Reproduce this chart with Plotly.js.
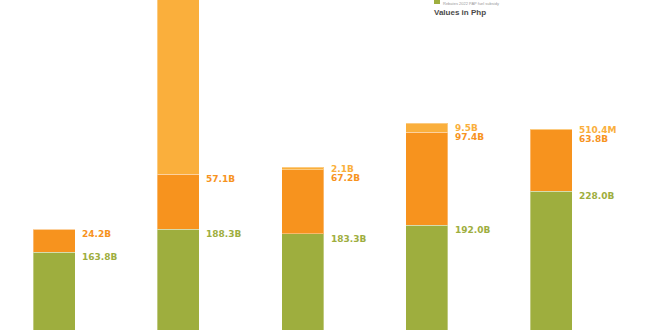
<!DOCTYPE html>
<html>
<head>
<meta charset="utf-8">
<script src="https://cdn.plot.ly/plotly-3.0.1.min.js"></script>
<style>html,body{margin:0;padding:0;background:#fff;}#chart{width:660px;height:330px;}</style>
</head>
<body>
<div id="chart"></div>
<script>
// Data (values in billions of Php)
const categories = ['2019', '2020', '2021', '2022', '2023'];
const baseValues = [163.8, 188.3, 183.3, 192.0, 228.0];
const addValues = [24.2, 57.1, 67.2, 97.4, 63.8];
const extraValues = [null, 200.0, 2.1, 9.5, 0.5104];
const seriesNames = ['Base', 'Additional', 'Supplemental'];

const colGreen = '#9EAE3E';
const colOrange = '#F7931E';
const colLight = '#FAAF3C';
const barWidth = 0.338;

function fmt(v) {
  return v >= 1 ? v.toFixed(1) + 'B' : (v * 1000).toFixed(1) + 'M';
}

const lineStyle = {width: 1, color: 'rgba(255,255,255,0.35)'};
const traces = [
  {type: 'bar', name: seriesNames[0], x: categories, y: baseValues, width: barWidth,
   marker: {color: colGreen, line: lineStyle}, hoverinfo: 'skip'},
  {type: 'bar', name: seriesNames[1], x: categories, y: addValues, width: barWidth,
   marker: {color: colOrange, line: lineStyle}, hoverinfo: 'skip'},
  {type: 'bar', name: seriesNames[2], x: categories, y: extraValues.map(v => v === null ? 0 : v), width: barWidth,
   marker: {color: colLight, line: lineStyle}, hoverinfo: 'skip'}
];

// Labels at the top of each segment, spread apart when they collide
const gap = 9.4; // minimum label spacing in value units
const annotations = [];
categories.forEach((c, i) => {
  const labels = [];
  let cum = baseValues[i];
  labels.push({pos: cum, text: fmt(baseValues[i]), color: colGreen});
  cum += addValues[i];
  labels.push({pos: cum, text: fmt(addValues[i]), color: colOrange});
  if (extraValues[i] !== null) {
    cum += extraValues[i];
    labels.push({pos: cum, text: fmt(extraValues[i]), color: colLight});
  }
  for (let k = 1; k < labels.length; k++) {
    const d = labels[k].pos - labels[k - 1].pos;
    if (d < gap) {
      const mid = (labels[k].pos + labels[k - 1].pos) / 2;
      labels[k].pos = mid + gap / 2;
      labels[k - 1].pos = mid - gap / 2;
    }
  }
  labels.forEach(l => {
    annotations.push({
      x: i, y: l.pos, xref: 'x', yref: 'y', text: l.text, showarrow: false,
      xanchor: 'left', yanchor: 'top', xshift: barWidth / 2 * 124.25 + 5, yshift: 2,
      font: {family: 'DejaVu Sans', size: 9, color: l.color, weight: 700}
    });
  });
});

annotations.push({
  xref: 'paper', yref: 'paper', x: 432 / 660, y: 1 - 19 / 330, xanchor: 'left', yanchor: 'bottom',
  text: '<b>Values in Php</b>', showarrow: false,
  font: {family: 'Liberation Sans', size: 8, color: '#4a4a4a'}
});
annotations.push({
  xref: 'paper', yref: 'paper', x: 442 / 660, y: 1, xanchor: 'left', yanchor: 'top',
  text: 'Rebates 2022 PAP fuel subsidy', showarrow: false, borderpad: 0,
  font: {family: 'Liberation Sans', size: 4, color: '#9a9a9a'}
});

const layout = {
  width: 660, height: 330,
  margin: {l: 0, r: 0, t: 0, b: 0},
  paper_bgcolor: '#ffffff', plot_bgcolor: '#ffffff',
  barmode: 'stack', showlegend: false,
  xaxis: {type: 'category', range: [-0.4346, 4.877], visible: false, fixedrange: true},
  yaxis: {range: [82.8, 427.6], visible: false, fixedrange: true},
  annotations: annotations,
  shapes: [{type: 'rect', xref: 'paper', yref: 'paper', x0: 434 / 660, x1: 440 / 660, y0: 1 - 4 / 330, y1: 1.01,
            fillcolor: colGreen, line: {width: 0}}]
};

Plotly.newPlot('chart', traces, layout, {staticPlot: true, displayModeBar: false});
</script>
</body>
</html>
